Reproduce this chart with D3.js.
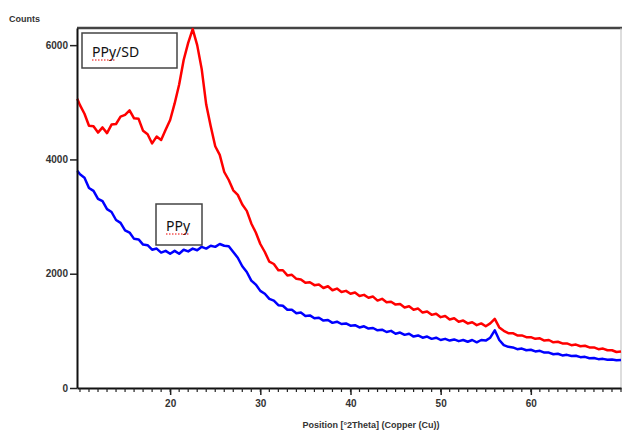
<!DOCTYPE html>
<html>
<head>
<meta charset="utf-8">
<script src="https://cdn.jsdelivr.net/npm/d3@7"></script>
<style>
  body { margin: 0; background: #fff; }
  svg { display: block; }
</style>
</head>
<body>
<svg id="chart" width="622" height="434"></svg>
<script>
// scan positions (deg 2theta), first point at the left edge then 0.5 deg steps
const twoTheta = [9.7].concat(d3.range(10, 70.25, 0.5));

const ppySD = [5060,
  4950, 4800, 4590, 4580, 4470, 4560, 4460, 4610, 4620, 4750,
  4780, 4860, 4720, 4710, 4500, 4440, 4280, 4400, 4340, 4520,
  4690, 4980, 5310, 5740, 6040, 6280, 6000, 5580, 4960, 4580,
  4230, 4080, 3780, 3640, 3460, 3380, 3210, 3100, 2880, 2720,
  2520, 2380, 2210, 2170, 2060, 2060, 1970, 1980, 1910, 1900,
  1840, 1850, 1800, 1810, 1750, 1780, 1710, 1740, 1680, 1700,
  1650, 1670, 1610, 1630, 1580, 1600, 1530, 1560, 1500, 1510,
  1460, 1470, 1410, 1430, 1370, 1390, 1320, 1340, 1280, 1300,
  1240, 1260, 1200, 1220, 1160, 1180, 1130, 1150, 1100, 1130,
  1080, 1130, 1210, 1060, 1000, 960, 960, 920, 920, 890,
  890, 860, 870, 830, 840, 800, 810, 780, 780, 750,
  760, 730, 740, 710, 710, 680, 690, 660, 660, 630,
  640];

const ppy = [3800,
  3740, 3680, 3500, 3450, 3310, 3270, 3130, 3080, 2940, 2890,
  2760, 2720, 2610, 2600, 2510, 2500, 2420, 2440, 2370, 2400,
  2350, 2400, 2350, 2420, 2390, 2440, 2410, 2470, 2440, 2490,
  2470, 2520, 2490, 2480, 2380, 2280, 2130, 2030, 1880, 1810,
  1700, 1650, 1560, 1530, 1450, 1440, 1370, 1370, 1310, 1320,
  1260, 1270, 1220, 1230, 1180, 1190, 1140, 1160, 1120, 1130,
  1090, 1100, 1060, 1080, 1040, 1050, 1010, 1020, 980, 1000,
  950, 970, 930, 950, 900, 920, 880, 900, 860, 880,
  840, 860, 830, 850, 820, 840, 810, 840, 800, 840,
  830, 880, 1010, 840, 750, 720, 710, 680, 690, 660,
  670, 640, 650, 620, 620, 590, 600, 570, 580, 560,
  565, 540, 545, 520, 525, 505, 510, 495, 500, 485,
  490];

const yTicks = [0, 2000, 4000, 6000];
const xTicks = [20, 30, 40, 50, 60];
const xMinor = d3.range(10, 71, 1);

const svg = d3.select('#chart');
const plotLeft = 77, plotRight = 621, plotTop = 28, plotBottom = 388;

const x = d3.scaleLinear().domain([9.67, 70]).range([plotLeft, plotRight]);
const y = d3.scaleLinear().domain([0, 6300]).range([plotBottom, plotTop]);

const tickFont = 'Liberation Sans, Arial, sans-serif';

// frame: top and right borders
svg.append('line')
  .attr('x1', plotLeft).attr('x2', plotRight + 1).attr('y1', plotTop).attr('y2', plotTop)
  .attr('stroke', '#444').attr('stroke-width', 2.5);
svg.append('line')
  .attr('x1', plotRight).attr('x2', plotRight).attr('y1', plotTop).attr('y2', plotBottom)
  .attr('stroke', '#bbb').attr('stroke-width', 1);

// curves
const line = d3.line()
  .x((d, i) => x(twoTheta[i]))
  .y(d => y(d));

svg.append('path')
  .datum(ppySD)
  .attr('d', line)
  .attr('fill', 'none')
  .attr('stroke', '#ff0000')
  .attr('stroke-width', 2.5)
  .attr('stroke-linejoin', 'round');

svg.append('path')
  .datum(ppy)
  .attr('d', line)
  .attr('fill', 'none')
  .attr('stroke', '#0000ff')
  .attr('stroke-width', 2.5)
  .attr('stroke-linejoin', 'round');

// y axis
const yAxis = svg.append('g')
  .attr('transform', `translate(${plotLeft},0)`)
  .call(d3.axisLeft(y).tickValues(yTicks).tickSize(7).tickSizeOuter(0).tickFormat(d3.format('d')));
yAxis.select('.domain').attr('stroke', '#111').attr('stroke-width', 2);
yAxis.selectAll('.tick line').attr('stroke', '#222').attr('stroke-width', 1.5);
yAxis.selectAll('.tick text')
  .attr('font-family', tickFont).attr('font-size', 10).attr('font-weight', 'bold')
  .attr('fill', '#333').attr('x', -9);

// x axis
const xAxis = svg.append('g')
  .attr('transform', `translate(0,${plotBottom})`)
  .call(d3.axisBottom(x).tickValues(xTicks).tickSize(7).tickSizeOuter(0).tickFormat(d3.format('d')));
xAxis.select('.domain').attr('stroke', '#111').attr('stroke-width', 2);
xAxis.selectAll('.tick line').attr('stroke', '#222').attr('stroke-width', 1.5);
xAxis.selectAll('.tick text')
  .attr('font-family', tickFont).attr('font-size', 10).attr('font-weight', 'bold')
  .attr('fill', '#333').attr('y', 12);

svg.append('g')
  .selectAll('line')
  .data(xMinor)
  .enter()
  .append('line')
  .attr('x1', d => x(d)).attr('x2', d => x(d))
  .attr('y1', plotBottom).attr('y2', plotBottom + 4)
  .attr('stroke', '#222').attr('stroke-width', 1.2);

// axis titles
svg.append('text')
  .attr('x', 9).attr('y', 22)
  .attr('font-family', tickFont).attr('font-size', 9).attr('font-weight', 'bold')
  .attr('fill', '#333')
  .text('Counts');

svg.append('text')
  .attr('x', 371).attr('y', 428)
  .attr('text-anchor', 'middle')
  .attr('font-family', tickFont).attr('font-size', 9).attr('font-weight', 'bold')
  .attr('fill', '#333')
  .text('Position [°2Theta] (Copper (Cu))');

// label boxes
const labels = [
  { text: 'PPy/SD', x0: 82, y0: 33, w: 95, h: 35, base: 57 },
  { text: 'PPy', x0: 156, y0: 204, w: 46, h: 41, base: 231 }
];

labels.forEach(l => {
  svg.append('rect')
    .attr('x', l.x0).attr('y', l.y0).attr('width', l.w).attr('height', l.h)
    .attr('fill', '#fff').attr('stroke', '#444').attr('stroke-width', 1.5);
  svg.append('text')
    .attr('x', l.x0 + 10).attr('y', l.base)
    .attr('font-family', 'Noto Sans, sans-serif').attr('font-size', 14)
    .attr('fill', '#111')
    .text(l.text);
  // spell-check squiggle under "PPy"
  svg.append('line')
    .attr('x1', l.x0 + 10).attr('x2', l.x0 + 34)
    .attr('y1', l.base + 3).attr('y2', l.base + 3)
    .attr('stroke', '#e00').attr('stroke-width', 1)
    .attr('stroke-dasharray', '1.5,1.5');
});
</script>
</body>
</html>
